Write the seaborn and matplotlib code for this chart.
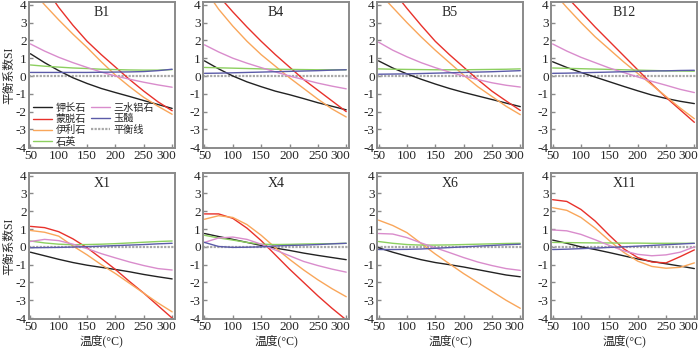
import matplotlib
matplotlib.use("Agg")
import matplotlib.pyplot as plt
import matplotlib.transforms as mtransforms
import pandas as pd
import seaborn as sns

# temperature grid (°C) shared by every panel
temps = [50, 75, 100, 125, 150, 175, 200, 225, 250, 275, 300]

minerals = ["钾长石", "蒙脱石", "伊利石", "石英", "三水铝石", "玉髓"]
colors = ["#222222", "#e8312b", "#f9a65a", "#8ccf5f", "#d98ccc", "#5b5ba8"]

# saturation index per sample (None = not shown)
B1 = {
    "钾长石": [1.25, 0.75, 0.3, -0.1, -0.42, -0.7, -0.93, -1.15, -1.38, -1.6, -1.82],
    "蒙脱石": [6.0, 5.0, 3.85, 2.85, 1.95, 1.2, 0.5, -0.2, -0.85, -1.45, -1.95],
    "伊利石": [4.9, 4.0, 3.15, 2.35, 1.6, 0.8, 0.05, -0.6, -1.2, -1.7, -2.15],
    "石英": [0.62, 0.55, 0.5, 0.45, 0.42, 0.38, 0.36, 0.34, 0.33, 0.33, 0.36],
    "三水铝石": [1.8, 1.4, 1.05, 0.75, 0.48, 0.22, 0.0, -0.18, -0.35, -0.5, -0.63],
    "玉髓": [0.2, 0.2, 0.2, 0.2, 0.2, 0.21, 0.22, 0.23, 0.25, 0.3, 0.38],
}
B4 = {
    "钾长石": [0.85, 0.4, 0.0, -0.33, -0.6, -0.85, -1.05, -1.27, -1.5, -1.7, -1.9],
    "蒙脱石": [5.3, 4.5, 3.6, 2.75, 1.95, 1.2, 0.5, -0.2, -0.8, -1.4, -2.0],
    "伊利石": [4.9, 3.75, 2.8, 1.95, 1.2, 0.55, -0.1, -0.7, -1.3, -1.85, -2.3],
    "石英": [0.48, 0.46, 0.44, 0.42, 0.4, 0.38, 0.37, 0.36, 0.35, 0.35, 0.35],
    "三水铝石": [1.75, 1.35, 1.0, 0.72, 0.47, 0.23, 0.0, -0.2, -0.4, -0.57, -0.72],
    "玉髓": [0.15, 0.16, 0.18, 0.2, 0.22, 0.24, 0.26, 0.28, 0.3, 0.33, 0.35],
}
B5 = {
    "钾长石": [0.85, 0.45, 0.12, -0.18, -0.45, -0.7, -0.92, -1.12, -1.32, -1.52, -1.72],
    "蒙脱石": [5.6, 4.8, 3.8, 2.85, 1.95, 1.2, 0.5, -0.2, -0.85, -1.4, -1.93],
    "伊利石": [4.7, 3.85, 3.0, 2.2, 1.45, 0.75, 0.05, -0.6, -1.15, -1.7, -2.17],
    "石英": [0.4, 0.38, 0.37, 0.36, 0.35, 0.35, 0.35, 0.36, 0.37, 0.38, 0.4],
    "三水铝石": [1.9, 1.45, 1.08, 0.75, 0.47, 0.22, 0.0, -0.2, -0.38, -0.52, -0.62],
    "玉髓": [0.1, 0.11, 0.12, 0.14, 0.16, 0.18, 0.2, 0.22, 0.24, 0.27, 0.3],
}
B12 = {
    "钾长石": [0.8, 0.48, 0.2, -0.06, -0.32, -0.58, -0.83, -1.07, -1.26, -1.42, -1.55],
    "蒙脱石": [5.3, 4.45, 3.6, 2.75, 1.95, 1.15, 0.35, -0.45, -1.2, -1.9, -2.6],
    "伊利石": [4.75, 3.85, 3.0, 2.2, 1.5, 0.8, 0.15, -0.5, -1.15, -1.8, -2.4],
    "石英": [0.45, 0.43, 0.41, 0.39, 0.37, 0.35, 0.33, 0.31, 0.29, 0.28, 0.27],
    "三水铝石": [1.8, 1.4, 1.05, 0.75, 0.45, 0.2, -0.05, -0.3, -0.52, -0.75, -0.93],
    "玉髓": [0.15, 0.16, 0.18, 0.2, 0.22, 0.24, 0.26, 0.28, 0.29, 0.31, 0.32],
}
X1 = {
    "钾长石": [-0.3, -0.5, -0.7, -0.88, -1.03, -1.15, -1.27, -1.4, -1.55, -1.68, -1.8],
    "蒙脱石": [1.15, 1.08, 0.85, 0.45, -0.05, -0.65, -1.27, -1.95, -2.6, -3.3, -4.0],
    "伊利石": [0.92, 0.82, 0.6, 0.05, -0.45, -1.0, -1.5, -2.05, -2.6, -3.15, -3.65],
    "石英": [0.33, 0.22, 0.15, 0.12, 0.13, 0.15, 0.18, 0.22, 0.26, 0.3, 0.33],
    "三水铝石": [0.3, 0.42, 0.35, 0.15, -0.1, -0.38, -0.62, -0.85, -1.05, -1.22, -1.3],
    "玉髓": [-0.05, -0.04, -0.03, -0.01, 0.01, 0.04, 0.07, 0.1, 0.13, 0.17, 0.2],
}
X4 = {
    "钾长石": [0.75, 0.58, 0.42, 0.25, 0.08, -0.07, -0.2, -0.35, -0.48, -0.6, -0.72],
    "蒙脱石": [1.85, 1.85, 1.6, 1.05, 0.35, -0.45, -1.25, -2.0, -2.75, -3.45, -4.1],
    "伊利石": [1.55, 1.75, 1.65, 1.25, 0.65, -0.05, -0.7, -1.3, -1.85, -2.35, -2.8],
    "石英": [0.65, 0.5, 0.38, 0.25, 0.15, 0.13, 0.14, 0.16, 0.17, 0.18, 0.2],
    "三水铝石": [0.25, 0.5, 0.55, 0.42, 0.15, -0.18, -0.5, -0.82, -1.05, -1.25, -1.42],
    "玉髓": [0.25, 0.02, -0.03, -0.02, 0.0, 0.05, 0.08, 0.1, 0.13, 0.17, 0.2],
}
X6 = {
    "钾长石": [-0.05, -0.3, -0.52, -0.72, -0.88, -1.0, -1.13, -1.28, -1.43, -1.58, -1.68],
    "蒙脱石": [None] * 11,
    "伊利石": [1.5, 1.2, 0.8, 0.2, -0.4, -0.95, -1.5, -2.0, -2.5, -3.0, -3.45],
    "石英": [0.3, 0.2, 0.13, 0.1, 0.1, 0.11, 0.13, 0.15, 0.17, 0.19, 0.2],
    "三水铝石": [0.75, 0.72, 0.52, 0.22, -0.05, -0.32, -0.6, -0.85, -1.05, -1.22, -1.32],
    "玉髓": [-0.15, -0.15, -0.14, -0.12, -0.08, -0.04, 0.0, 0.04, 0.08, 0.12, 0.15],
}
X11 = {
    "钾长石": [0.38, 0.2, 0.0, -0.15, -0.32, -0.5, -0.68, -0.82, -0.95, -1.08, -1.22],
    "蒙脱石": [2.65, 2.55, 2.1, 1.45, 0.65, -0.1, -0.6, -0.85, -0.9, -0.55, -0.17],
    "伊利石": [2.2, 2.05, 1.65, 1.05, 0.35, -0.3, -0.8, -1.1, -1.2, -1.15, -0.9],
    "石英": [0.25, 0.24, 0.23, 0.22, 0.22, 0.21, 0.21, 0.2, 0.2, 0.2, 0.2],
    "三水铝石": [0.95, 0.9, 0.7, 0.4, 0.08, -0.22, -0.42, -0.5, -0.45, -0.3, 0.0],
    "玉髓": [-0.15, -0.13, -0.1, -0.07, -0.03, 0.0, 0.04, 0.08, 0.12, 0.16, 0.2],
}

panels = [("B1", B1), ("B4", B4), ("B5", B5), ("B12", B12),
          ("X1", X1), ("X4", X4), ("X6", X6), ("X11", X11)]

sns.set_style("ticks")
plt.rcParams["font.family"] = ["Liberation Serif", "Noto Sans CJK SC"]
plt.rcParams["axes.unicode_minus"] = False
plt.rcParams["axes.edgecolor"] = "#8a8a8a"
plt.rcParams["axes.linewidth"] = 1.4


def to_long(data):
    rows = []
    for m in minerals:
        for t, v in zip(temps, data[m]):
            if v is not None:
                rows.append({"温度": t, "SI": v, "矿物": m})
    return pd.DataFrame(rows)


fig, axes = plt.subplots(2, 4, figsize=(7, 3.49), dpi=100)
fig.subplots_adjust(left=0.041, right=0.996, top=0.994, bottom=0.086,
                    wspace=0.19, hspace=0.17)

for i, (ax, (name, data)) in enumerate(zip(axes.flat, panels)):
    df = to_long(data)
    ax.axhline(0, color="#a8a8a8", lw=1.6, ls=(0, (1, 0.6)), zorder=1,
               label="平衡线")
    sns.lineplot(data=df, x="温度", y="SI", hue="矿物", hue_order=minerals,
                 palette=dict(zip(minerals, colors)), lw=1.0,
                 errorbar=None, ax=ax, legend=(i == 0))
    ax.set_xlim(47, 305)
    ax.set_ylim(-4.05, 4.15)
    ax.set_xticks([50, 100, 150, 200, 250, 300])
    ax.set_yticks(range(-4, 5))
    ax.tick_params(direction="in", length=3, width=1, color="#8a8a8a",
                   labelsize=9.5, pad=1.5)
    # last x label sits flush with the right frame, as in the original
    last = ax.get_xticklabels()[-1]
    last.set_ha("right")
    last.set_transform(last.get_transform() + mtransforms.ScaledTranslation(
        4 / 100, 0, fig.dpi_scale_trans))
    ax.text(0.5, 0.93, name, transform=ax.transAxes, ha="center",
            va="center", fontsize=10)
    ax.set_xlabel("温度(°C)" if i >= 4 else "", fontsize=8.5, labelpad=1)
    ax.set_ylabel("平衡系数SI" if i % 4 == 0 else "", fontsize=8.5,
                  labelpad=0)
    if i == 0:
        handles, labels = ax.get_legend_handles_labels()
        lookup = dict(zip(labels, handles))
        order = minerals + ["平衡线"]
        ax.legend([lookup[k] for k in order], order, loc="upper left",
                  bbox_to_anchor=(0.03, 0.31), ncol=2, frameon=False,
                  fontsize=7.3, handlelength=1.9, handletextpad=0.3,
                  columnspacing=0.5, labelspacing=0.12, borderpad=0,
                  borderaxespad=0)

fig.savefig("out.png", dpi=100)
